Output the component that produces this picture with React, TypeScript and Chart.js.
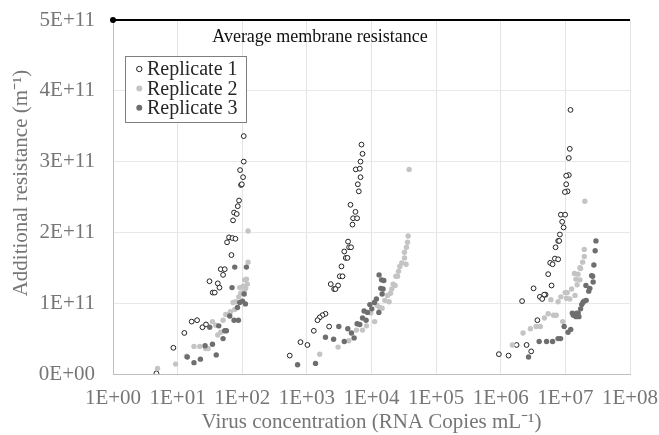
import React, { useEffect, useRef } from 'react';
import { Chart, registerables } from 'chart.js';

Chart.register(...registerables);

const seriesNames = ['Replicate 1', 'Replicate 2', 'Replicate 3'];
const xTickExponents = [0, 1, 2, 3, 4, 5, 6, 7, 8];
const yTickValues = [0, 1e11, 2e11, 3e11, 4e11, 5e11];
const avgLabel = 'Average membrane resistance';
const avgX = [1, 1e8];
const avgY = [5e11, 5e11];
const xTitle = 'Virus concentration (RNA Copies mL\u207B\u00B9)';
const yTitle = 'Additional resistance (m\u207B\u00B9)';

const rep1X = [
  105.5, 105.5, 92.5, 103, 95.8, 98.5, 89.2, 85.2, 74.7, 82.2, 72.0, 62.5, 70.5, 78.5, 58.2, 68.0, 46.5, 53.6, 50.5, 31.1, 41.8, 44.4, 34.9, 37.5, 16.5, 20.0, 24.2, 27.5, 12.7, 8.6, 4.7,
  7000, 7260, 6760, 5710, 6590, 6760, 6140, 6360, 4730, 5650, 5190, 5990, 5080, 4340, 4500, 4830, 3790, 4000, 4250, 3430, 3230, 3560, 2340, 3040, 2640, 2770, 1940, 1740, 1580, 1460, 2210, 1280, 796, 1020, 543,
  1.20e7, 1.17e7, 1.13e7, 1.13e7, 1.03e7, 1.03e7, 1.08e7, 9.83e6, 8.51e6, 9.93e6, 8.92e6, 9.38e6, 8.22e6, 7.74e6, 8.02e6, 7.05e6, 6.88e6, 7.74e6, 5.82e6, 6.34e6, 5.42e6, 6.11e6, 3.22e6, 4.93e6, 4.70e6, 4.03e6, 4.38e6, 2.14e6, 3.69e6, 1.76e6, 2.51e6, 2.96e6, 9.35e5, 1.32e6,
];
const rep1Y = [
  3.36e11, 3.00e11, 2.88e11, 2.78e11, 2.67e11, 2.68e11, 2.45e11, 2.37e11, 2.28e11, 2.26e11, 2.17e11, 1.93e11, 1.92e11, 1.91e11, 1.86e11, 1.68e11, 1.48e11, 1.48e11, 1.40e11, 1.31e11, 1.28e11, 1.22e11, 1.15e11, 1.15e11, 0.74e11, 0.76e11, 0.66e11, 0.70e11, 0.58e11, 0.37e11, 0.01e11,
  3.24e11, 3.11e11, 3.00e11, 2.89e11, 2.90e11, 2.78e11, 2.68e11, 2.58e11, 2.39e11, 2.29e11, 2.20e11, 2.20e11, 2.11e11, 1.87e11, 1.79e11, 1.79e11, 1.73e11, 1.64e11, 1.64e11, 1.52e11, 1.38e11, 1.38e11, 1.27e11, 1.25e11, 1.20e11, 1.20e11, 0.85e11, 0.83e11, 0.80e11, 0.76e11, 0.67e11, 0.61e11, 0.45e11, 0.41e11, 0.26e11,
  3.73e11, 3.18e11, 3.05e11, 2.81e11, 2.80e11, 2.68e11, 2.58e11, 2.57e11, 2.25e11, 2.25e11, 2.15e11, 2.07e11, 1.97e11, 1.88e11, 1.88e11, 1.79e11, 1.63e11, 1.62e11, 1.57e11, 1.55e11, 1.41e11, 1.25e11, 1.21e11, 1.12e11, 1.12e11, 1.09e11, 1.06e11, 1.03e11, 0.76e11, 0.41e11, 0.41e11, 0.32e11, 0.28e11, 0.26e11,
];

const rep2X = [
  123, 123, 116, 109, 120, 103, 91.5, 113, 107, 94.8, 88.3, 79.3, 72, 76.5, 65.7, 60.3, 55.6, 50.5, 34.6, 38.9, 46.5, 41.8, 17.9, 22.0, 27.2, 29.6, 13.7, 9.3, 4.9,
  38200, 36900, 36100, 34800, 32400, 32400, 34300, 29400, 27400, 26200, 25300, 23800, 21600, 23200, 20600, 19700, 17700, 18700, 16100, 14600, 13400, 12200, 9750, 11200, 8370, 7260, 5860, 4450, 3040, 1580,
  2.00e7, 1.96e7, 1.96e7, 1.85e7, 1.68e7, 1.72e7, 1.38e7, 1.57e7, 1.46e7, 1.68e7, 1.52e7, 1.25e7, 1.41e7, 9.93e6, 1.07e7, 1.04e7, 1.17e7, 8.51e6, 7.71e6, 5.97e6, 5.42e6, 6.55e6, 7.21e6, 4.73e6, 9.09e6, 4.10e6, 3.53e6, 2.87e6, 2.21e6, 1.51e6,
];
const rep2Y = [
  2.02e11, 1.58e11, 1.34e11, 1.33e11, 1.27e11, 1.24e11, 1.22e11, 1.21e11, 1.17e11, 1.14e11, 1.09e11, 1.02e11, 1.01e11, 0.91e11, 0.88e11, 0.84e11, 0.84e11, 0.76e11, 0.74e11, 0.69e11, 0.59e11, 0.55e11, 0.39e11, 0.39e11, 0.36e11, 0.36e11, 0.25e11, 0.14e11, 0.08e11,
  2.89e11, 1.95e11, 1.86e11, 1.79e11, 1.72e11, 1.64e11, 1.55e11, 1.57e11, 1.52e11, 1.45e11, 1.38e11, 1.38e11, 1.27e11, 1.25e11, 1.20e11, 1.14e11, 1.11e11, 1.02e11, 1.04e11, 0.93e11, 0.94e11, 0.97e11, 0.86e11, 0.74e11, 0.68e11, 0.62e11, 0.62e11, 0.47e11, 0.38e11, 0.28e11,
  2.44e11, 1.76e11, 1.66e11, 1.58e11, 1.50e11, 1.49e11, 1.42e11, 1.41e11, 1.34e11, 1.33e11, 1.26e11, 1.20e11, 1.11e11, 1.15e11, 1.15e11, 1.07e11, 1.06e11, 1.09e11, 1.02e11, 1.05e11, 0.85e11, 0.83e11, 0.83e11, 0.79e11, 0.74e11, 0.67e11, 0.67e11, 0.64e11, 0.58e11, 0.41e11,
];

const rep3X = [
  76.5, 116, 69.5, 107, 112, 91.5, 101, 84.3, 64.1, 74.7, 87.3, 43.3, 31.4, 56.9, 53.6, 50.5, 34.6, 26.6, 39.6, 22.5, 17.9, 14.1,
  13100, 14300, 15500, 13900, 15100, 14600, 11900, 11100, 9420, 10100, 7680, 8670, 7260, 8250, 13000, 5990, 6590, 4300, 4900, 3120, 5380, 3790, 2590, 1940, 1360, 718,
  2.97e7, 2.89e7, 2.76e7, 2.55e7, 2.64e7, 2.69e7, 2.08e7, 2.39e7, 2.30e7, 2.10e7, 1.95e7, 1.87e7, 1.79e7, 1.72e7, 1.58e7, 1.49e7, 1.28e7, 1.33e7, 1.62e7, 1.46e7, 9.58e6, 1.21e7, 1.10e7, 8.43e6, 7.71e6, 6.34e6, 5.12e6, 3.93e6, 2.69e6,
];
const rep3Y = [
  1.51e11, 1.51e11, 1.22e11, 1.13e11, 0.99e11, 1.01e11, 1.03e11, 0.94e11, 0.82e11, 0.76e11, 0.76e11, 0.68e11, 0.66e11, 0.61e11, 0.61e11, 0.50e11, 0.42e11, 0.40e11, 0.27e11, 0.21e11, 0.16e11, 0.24e11,
  1.40e11, 1.33e11, 1.32e11, 1.21e11, 1.20e11, 1.13e11, 1.06e11, 1.01e11, 0.98e11, 0.92e11, 0.89e11, 0.87e11, 0.79e11, 0.76e11, 0.87e11, 0.71e11, 0.70e11, 0.64e11, 0.58e11, 0.67e11, 0.51e11, 0.46e11, 0.49e11, 0.52e11, 0.15e11, 0.13e11,
  1.88e11, 1.74e11, 1.54e11, 1.39e11, 1.38e11, 1.30e11, 1.25e11, 1.21e11, 1.17e11, 1.04e11, 1.03e11, 1.01e11, 0.98e11, 0.92e11, 0.86e11, 0.86e11, 0.86e11, 0.83e11, 0.81e11, 0.81e11, 0.67e11, 0.63e11, 0.59e11, 0.50e11, 0.50e11, 0.46e11, 0.46e11, 0.46e11, 0.24e11,
];

const FONT = '"Liberation Serif", "Times New Roman", serif';
const AXIS_TEXT = '#767676';

const zip = (xs: number[], ys: number[]) => xs.map((x, i) => ({ x, y: ys[i] }));

const seriesStyles = [
  { bg: '#ffffff', border: '#222222', borderWidth: 1, radius: 2.4 },
  { bg: '#c4c4c4', border: '#c4c4c4', borderWidth: 0, radius: 2.7 },
  { bg: '#6e6e6e', border: '#6e6e6e', borderWidth: 0, radius: 2.7 },
];

const overlayPlugin = {
  id: 'overlay',
  afterDraw(chart: any) {
    const { ctx, chartArea } = chart;
    ctx.save();
    ctx.fillStyle = AXIS_TEXT;
    ctx.font = `21px ${FONT}`;
    ctx.textAlign = 'center';
    ctx.textBaseline = 'middle';
    ctx.save();
    ctx.translate(21, chartArea.top + 163);
    ctx.rotate(-Math.PI / 2);
    ctx.fillText(yTitle, 0, 0);
    ctx.restore();
    ctx.fillText(xTitle, (chartArea.left + chartArea.right) / 2, chartArea.bottom + 48);
    ctx.fillStyle = '#111111';
    ctx.font = `18px ${FONT}`;
    ctx.fillText(avgLabel, chartArea.left + 207, chartArea.top + 17);
    const lx = chartArea.left + 12;
    const ly = chartArea.top + 36;
    const lw = 121;
    const lh = 66;
    ctx.fillStyle = '#ffffff';
    ctx.fillRect(lx, ly, lw, lh);
    ctx.strokeStyle = '#7f7f7f';
    ctx.lineWidth = 1;
    ctx.strokeRect(lx + 0.5, ly + 0.5, lw, lh);
    ctx.font = `20px ${FONT}`;
    ctx.textAlign = 'left';
    seriesNames.forEach((name, i) => {
      const cy = ly + 13 + i * 19.4;
      const st = seriesStyles[i];
      ctx.beginPath();
      ctx.arc(lx + 14.3, cy, st.radius + 0.3, 0, Math.PI * 2);
      ctx.fillStyle = st.bg;
      ctx.fill();
      if (st.borderWidth) {
        ctx.strokeStyle = st.border;
        ctx.lineWidth = st.borderWidth;
        ctx.stroke();
      }
      ctx.fillStyle = '#262626';
      ctx.fillText(name, lx + 22, cy + 1);
    });
    ctx.restore();
  },
};

export default function App() {
  const canvasRef = useRef<HTMLCanvasElement | null>(null);

  useEffect(() => {
    if (!canvasRef.current) return;
    const reps = [zip(rep1X, rep1Y), zip(rep2X, rep2Y), zip(rep3X, rep3Y)];
    const chart = new Chart(canvasRef.current, {
      type: 'scatter',
      data: {
        datasets: [
          {
            type: 'line',
            label: avgLabel,
            data: zip(avgX, avgY),
            borderColor: '#000000',
            borderWidth: 2,
            pointRadius: [3, 0],
            pointBackgroundColor: '#000000',
            pointBorderWidth: 0,
            clip: false,
            order: 0,
          } as any,
          ...reps.map((d, i) => ({
            label: seriesNames[i],
            data: d,
            backgroundColor: seriesStyles[i].bg,
            borderColor: seriesStyles[i].border,
            borderWidth: seriesStyles[i].borderWidth,
            pointRadius: seriesStyles[i].radius,
            pointHoverRadius: seriesStyles[i].radius,
            order: 3 - i,
          })),
        ],
      },
      options: {
        animation: false,
        responsive: true,
        maintainAspectRatio: false,
        layout: { padding: { left: 0, right: 29, top: 20, bottom: 0 } },
        plugins: {
          legend: { display: false },
          tooltip: { enabled: false },
        },
        scales: {
          x: {
            type: 'logarithmic',
            min: 1,
            max: 1e8,
            afterBuildTicks: (scale: any) => {
              scale.ticks = xTickExponents.map((e) => ({ value: Math.pow(10, e) }));
            },
            afterFit: (scale: any) => {
              scale.height = 61;
              scale.paddingLeft = 0;
              scale.paddingRight = 0;
            },
            ticks: {
              autoSkip: false,
              maxRotation: 0,
              padding: 12,
              color: AXIS_TEXT,
              font: { family: FONT, size: 21 },
              callback: (v: any) => {
                const e = Math.round(Math.log10(Number(v)));
                return `1E+${String(e).padStart(2, '0')}`;
              },
            },
            grid: { color: '#e4e4e4', drawTicks: false },
            border: { color: '#bfbfbf' },
          },
          y: {
            type: 'linear',
            min: 0,
            max: 5e11,
            afterBuildTicks: (scale: any) => {
              scale.ticks = yTickValues.map((v) => ({ value: v }));
            },
            afterFit: (scale: any) => {
              scale.width = 113;
              scale.paddingTop = 0;
              scale.paddingBottom = 0;
            },
            ticks: {
              padding: 18,
              color: AXIS_TEXT,
              font: { family: FONT, size: 21 },
              callback: (v: any) => {
                const n = Number(v);
                return n === 0 ? '0E+00' : `${Math.round(n / 1e11)}E+11`;
              },
            },
            grid: { color: '#e8e8e8', drawTicks: false },
            border: { color: '#bfbfbf' },
          },
        },
      } as any,
      plugins: [overlayPlugin],
    });
    return () => chart.destroy();
  }, []);

  return (
    <div style={{ position: 'fixed', left: 0, top: 0, width: 659, height: 435, background: '#ffffff' }}>
      <canvas ref={canvasRef} />
    </div>
  );
}
